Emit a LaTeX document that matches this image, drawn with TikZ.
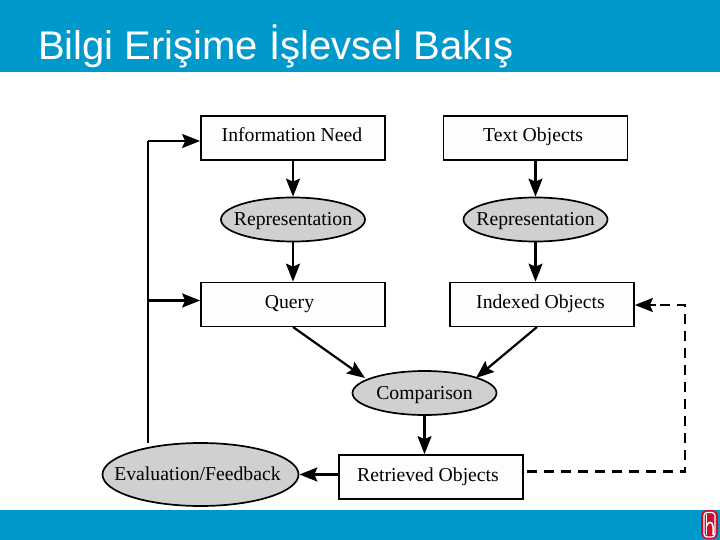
\documentclass[tikz,border=0pt]{standalone}
\usepackage{fontspec}
\setmainfont{Liberation Serif}
\newfontfamily\titlefont{Liberation Sans}
\usetikzlibrary{arrows.meta,shapes.geometric}
\definecolor{band}{HTML}{0099CC}
\definecolor{ovalgray}{HTML}{D0D0D0}
\definecolor{boxfill}{HTML}{FFFCFF}
\definecolor{logored}{HTML}{C8102E}
\newcommand{\ovaltext}[1]{\makebox[0pt]{#1}}
\tikzset{
  x=1pt,y=-1pt,
  boxn/.style={draw=black,line width=1.7pt,fill=boxfill,minimum width=184pt,minimum height=44pt,inner sep=0pt,text height=12pt,text depth=4pt,font=\fontsize{19.7}{22}\selectfont},
  oval/.style={draw=black,line width=1.7pt,fill=ovalgray,ellipse,minimum width=144pt,minimum height=44pt,inner sep=0pt,text height=14pt,text depth=2pt,font=\fontsize{19.7}{22}\selectfont},
  conn/.style={line width=2.2pt,-{Stealth[length=18pt,width=14pt,inset=3pt]}},
  plain/.style={line width=2.2pt},
  dashconn/.style={line width=2.4pt,dash pattern=on 10pt off 7pt}
}
\begin{document}
\begin{tikzpicture}
\useasboundingbox (0,0) rectangle (720,540);
\fill[white] (0,0) rectangle (720,540);
\fill[band] (0,0) rectangle (720,72.5);
\fill[band] (0,510) rectangle (720,540);
\node[anchor=base west,inner sep=0pt,text=white,font=\titlefont\fontsize{40}{44}\selectfont] (title) at (38,60) {Bilgi Erişime İşlevsel Bakış};

\node[boxn] (need) at (293,138) {Information Need\hspace*{2pt}};
\node[boxn] (text) at (535.5,138) {Text Objects\hspace*{5pt}};
\node[oval] (rep1) at (293,219.5) {\ovaltext{Representation}};
\node[oval] (rep2) at (535.5,219.5) {\ovaltext{Representation}};
\node[boxn] (query) at (293,304.5) {Query\hspace*{7pt}};
\node[boxn] (indexed) at (542,304.5) {Indexed Objects\hspace*{3pt}};
\node[oval] (comp) at (424.5,393) {\ovaltext{Comparison}};
\node[boxn] (retr) at (431,477) {Retrieved Objects\hspace*{6pt}};
\node[oval,minimum width=196pt,minimum height=63pt] (eval) at (200.5,474.5) {\ovaltext{\hspace*{-6pt}Evaluation/Feedback}};

\draw[conn] (need) -- (rep1);
\draw[conn] (text) -- (rep2);
\draw[conn] (rep1) -- (query);
\draw[conn] (rep2.south) -- (rep2.south |- indexed.north);
\draw[conn] (293,327) -- (365,378);
\draw[conn] (537,327) -- (476,378);
\draw[conn] (comp) -- (comp |- retr.north);
\draw[conn] (retr.west |- eval.east) -- (eval.east);

\coordinate (fbstart) at (148,443);
\coordinate (fbtop) at (148,141);
\coordinate (fbmid) at (148,300.5);
\draw[plain,line join=miter] (fbstart) -- (fbtop);
\draw[conn] (fbtop) -- (need.west |- fbtop);
\draw[conn] (fbmid) -- (query.west |- fbmid);

\coordinate (dstart) at (527,471.5);
\coordinate (dcorner) at (685,471.5);
\coordinate (dtop) at (685,305);
\draw[dashconn] (dstart) -- (dcorner) -- (dtop) -- (650,305);
\draw[conn] (656,305) -- (indexed.east |- dtop);

\fill[logored,rounded corners=6pt] (701,510) rectangle (718,539);
\draw[white,line width=1.2pt,rounded corners=3pt] (704,512.5) -- (715,512.5) -- (715,537) -- (704,537) -- cycle;
\draw[white,line width=1.5pt] (706.5,514) -- (706.5,535);
\draw[white,line width=1.5pt] (706.5,526) .. controls (708,521) and (713,521) .. (713,527) -- (713,535);
\end{tikzpicture}
\end{document}
